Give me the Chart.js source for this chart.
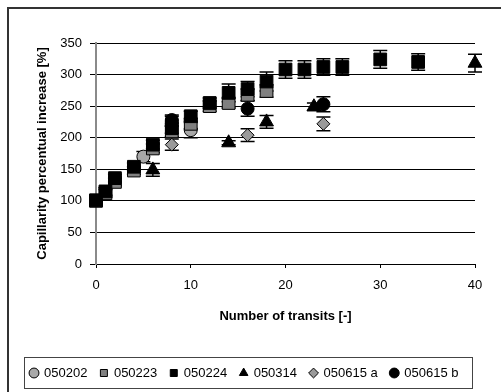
<!DOCTYPE html>
<html>
<head>
<meta charset="utf-8">
<script src="https://cdn.jsdelivr.net/npm/chart.js@4.4.1/dist/chart.umd.min.js"></script>
<style>
  html, body { margin: 0; padding: 0; background: #fff; }
  #wrap { position: relative; width: 501px; height: 392px; overflow: hidden; }
  #frame { position: absolute; left: 7px; top: 7px; width: 600px; height: 600px;
           border-left: 2px solid #333; border-top: 2px solid #333; }
  canvas { position: absolute; left: 0; top: 0; }
</style>
</head>
<body>
<div id="wrap">
  <div id="frame"></div>
  <canvas id="c" width="501" height="392"></canvas>
</div>
<script>
// ---- data ----
const seriesNames = ['050202', '050223', '050224', '050314', '050615 a', '050615 b'];

const x050202 = [5, 8, 10];
const y050202 = [170, 226, 212];
const e050202 = [8, 8, 12];

const x050223 = [0, 1, 2, 4, 6, 8, 10, 12, 14, 16, 18];
const y050223 = [100, 112, 130, 148, 183, 210, 222, 250, 255, 268, 274];
const e050223 = [5, 6, 6, 6, 7, 8, 8, 8, 8, 9, 10];

const x050224 = [0, 1, 2, 4, 6, 8, 10, 12, 14, 16, 18, 20, 22, 24, 26, 30, 34];
const y050224 = [101, 115, 136, 154, 189, 215, 234, 255, 271, 277, 289, 308, 308, 312, 312, 324, 320];
const e050224 = [5, 6, 6, 6, 7, 8, 8, 8, 14, 12, 15, 14, 14, 13, 13, 14, 13];

const x050314 = [6, 14, 18, 23, 40];
const y050314 = [149, 192, 225, 249, 318];
const e050314 = [10, 3, 10, 6, 14];

const x050615a = [8, 16, 24];
const y050615a = [189, 204, 222];
const e050615a = [9, 10, 11];

const x050615b = [8, 16, 24];
const y050615b = [228, 246, 253];
const e050615b = [8, 12, 12];

const xTicks = [0, 10, 20, 30, 40];
const yTicks = [0, 50, 100, 150, 200, 250, 300, 350];

// ---- build datasets ----
function pts(xs, ys) { return xs.map((v, i) => ({ x: v, y: ys[i] })); }

const styles = [
  { pointStyle: 'circle',   radius: 6.5, bg: '#a8a8a8' },
  { pointStyle: 'rect',     radius: 9,   bg: '#808080' },
  { pointStyle: 'rect',     radius: 9,   bg: '#000000' },
  { pointStyle: 'triangle', radius: 8,   bg: '#000000' },
  { pointStyle: 'rectRot',  radius: 6.5, bg: '#9a9a9a' },
  { pointStyle: 'circle',   radius: 6.5, bg: '#000000' }
];
const xsAll = [x050202, x050223, x050224, x050314, x050615a, x050615b];
const ysAll = [y050202, y050223, y050224, y050314, y050615a, y050615b];
const esAll = [e050202, e050223, e050224, e050314, e050615a, e050615b];

const datasets = seriesNames.map((name, i) => ({
  label: name,
  data: pts(xsAll[i], ysAll[i]),
  errors: esAll[i],
  order: seriesNames.length - i,   // later series drawn on top
  showLine: false,
  clip: false,
  pointStyle: styles[i].pointStyle,
  pointRadius: styles[i].radius,
  pointHoverRadius: styles[i].radius,
  backgroundColor: styles[i].bg,
  borderColor: '#000',
  borderWidth: 1
}));

const FONT = "'Liberation Sans', Arial, sans-serif";

const errorBars = {
  id: 'errorBars',
  beforeDatasetsDraw(chart) {
    const ctx = chart.ctx;
    const xs = chart.scales.x, ys = chart.scales.y;
    ctx.save();
    ctx.strokeStyle = '#000';
    ctx.lineWidth = 1.5;
    chart.data.datasets.forEach((ds, di) => {
      if (!chart.isDatasetVisible(di)) return;
      ds.data.forEach((p, k) => {
        const e = ds.errors[k];
        const px = xs.getPixelForValue(p.x);
        const pTop = ys.getPixelForValue(p.y + e);
        const pBot = ys.getPixelForValue(p.y - e);
        ctx.beginPath();
        ctx.moveTo(px, pTop); ctx.lineTo(px, pBot);
        ctx.moveTo(px - 7, pTop); ctx.lineTo(px + 7, pTop);
        ctx.moveTo(px - 7, pBot); ctx.lineTo(px + 7, pBot);
        ctx.stroke();
      });
    });
    ctx.restore();
  }
};

const legendBox = {
  id: 'legendBox',
  afterDraw(chart) {
    const lg = chart.legend;
    if (!lg || !lg.legendHitBoxes || !lg.legendHitBoxes.length) return;
    const hb = lg.legendHitBoxes;
    const l = hb[0].left, r = hb[hb.length - 1].left + hb[hb.length - 1].width;
    const cy = hb[0].top + hb[0].height / 2;
    const ctx = chart.ctx;
    ctx.save();
    ctx.strokeStyle = '#444';
    ctx.lineWidth = 1;
    ctx.strokeRect(Math.round(l - 7) + 0.5, Math.round(cy - 16) + 0.5, Math.round(r - l + 20), 31);
    ctx.restore();
  }
};

new Chart(document.getElementById('c'), {
  type: 'scatter',
  data: { datasets },
  plugins: [errorBars, legendBox],
  options: {
    responsive: false,
    animation: false,
    events: [],
    layout: { padding: { left: 14, right: 26, top: 43, bottom: 2.5 } },
    plugins: {
      tooltip: { enabled: false },
      legend: {
        position: 'bottom',
        labels: {
          usePointStyle: true,
          boxWidth: 7,
          boxHeight: 7,
          padding: 13,
          color: '#000',
          font: { family: FONT, size: 13 },
          sort: (a, b) => a.datasetIndex - b.datasetIndex
        }
      }
    },
    scales: {
      x: {
        type: 'linear',
        min: 0, max: 40,
        afterBuildTicks(s) { s.ticks = xTicks.map(v => ({ value: v })); },
        afterFit(s) { s.height = 89.5; },
        ticks: { color: '#000', padding: 10, font: { family: FONT, size: 13 } },
        grid: { drawOnChartArea: false, drawTicks: true, tickLength: 4, color: '#000', lineWidth: 1 },
        border: { color: '#000', width: 1 },
        title: { display: true, text: 'Number of transits [-]', color: '#000',
                 padding: { top: 0, bottom: 29.5 },
                 font: { family: FONT, size: 13, weight: 'bold' } }
      },
      y: {
        type: 'linear',
        min: 0, max: 350,
        afterBuildTicks(s) { s.ticks = yTicks.map(v => ({ value: v })); },
        afterFit(s) { s.width = 82; },
        ticks: { color: '#000', padding: 8, font: { family: FONT, size: 13 } },
        grid: { color: '#000', lineWidth: 1, drawTicks: true, tickLength: 6 },
        border: { color: '#8a8a8a', width: 2 },
        title: { display: true, text: 'Capillarity percentual increase [%]', color: '#000',
                 padding: { top: 20.2, bottom: 0 },
                 font: { family: FONT, size: 13, weight: 'bold' } }
      }
    }
  }
});
</script>
</body>
</html>
